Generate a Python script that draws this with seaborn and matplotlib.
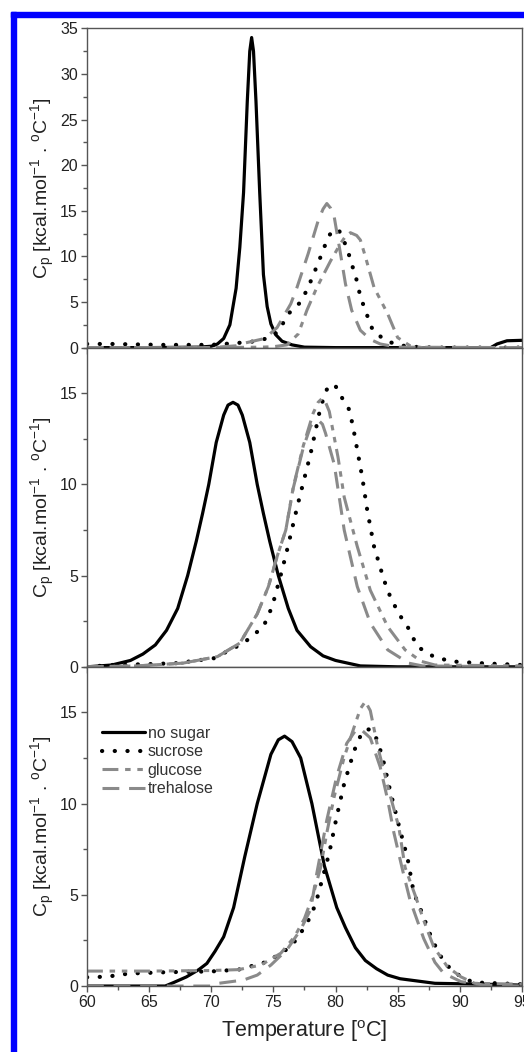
import numpy as np
import pandas as pd
import matplotlib
matplotlib.use("Agg")
import matplotlib.pyplot as plt
from matplotlib.patches import Rectangle
from matplotlib.ticker import MultipleLocator
import seaborn as sns

# =====================================
# DATA
# =====================================

# panel 1
t1_none = [60, 65, 69, 70, 70.5, 71, 71.5, 72, 72.3, 72.6, 72.9, 73.1, 73.25, 73.4, 73.6,
           73.9, 74.2, 74.5, 74.8, 75.2, 75.7, 76.5, 77.5, 80, 85, 90, 92.5, 93, 93.8, 95]
cp1_none = [0, 0, 0.05, 0.15, 0.4, 1.0, 2.5, 6.5, 11, 17, 27, 32.5, 34, 32.5, 27,
            17, 8, 4.5, 2.6, 1.4, 0.7, 0.3, 0.05, 0, 0, 0, 0, 0.4, 0.75, 0.8]

t1_suc = [60, 62, 64, 66, 68, 70, 71, 72, 73, 74, 75, 75.5, 76.2, 77.2, 77.8, 78.4,
          78.9, 79.4, 79.7, 80.0, 80.3, 80.9, 81.3, 81.7, 82.0, 82.5, 83.0, 84, 85, 86,
          88, 95]
cp1_suc = [0.4, 0.4, 0.35, 0.3, 0.3, 0.3, 0.4, 0.5, 0.6, 0.8, 1.3, 2.0, 3.7, 5.0, 6.6, 8.6,
           10.3, 12.1, 12.7, 13.0, 12.8, 11.0, 9.2, 7.4, 5.6, 3.7, 1.9, 0.8, 0.3, 0.1,
           0, 0]

t1_glu = [60, 70, 74, 75, 76.1, 77.0, 77.7, 78.5, 79.6, 80.4, 80.8, 81.2, 81.7, 82.0,
          82.4, 83.1, 84.2, 85.0, 86.0, 87, 95]
cp1_glu = [0, 0, 0.05, 0.1, 0.3, 1.5, 4.1, 6.6, 9.5, 11.4, 12.2, 12.6, 12.3, 11.8,
           10.0, 6.6, 3.7, 1.1, 0.2, 0, 0]

t1_tre = [60, 70, 72, 72.7, 73.5, 74.3, 75.3, 76.4, 76.9, 77.8, 78.6, 79.0, 79.3, 79.6,
          79.9, 80.4, 80.8, 81.3, 82.0, 82.8, 83.6, 85, 95]
cp1_tre = [0, 0, 0.2, 0.5, 0.75, 1.0, 2.2, 4.8, 6.6, 10.3, 13.9, 15.2, 15.8, 15.3,
           14.3, 10.3, 7.0, 4.1, 1.9, 0.9, 0.4, 0.05, 0]

# panel 2
t2_none = [60, 62, 63.5, 64.5, 65.5, 66.4, 67.3, 68.1, 68.8, 69.3, 69.8, 70.4, 71.0, 71.35,
           71.75, 72.15, 72.5, 73.1, 73.7, 74.2, 74.7, 75.4, 76.2, 76.9, 78.0, 79.0, 80.0,
           82, 85, 95]
cp2_none = [0, 0.1, 0.35, 0.7, 1.2, 2.0, 3.2, 5.0, 6.9, 8.4, 10.0, 12.3, 13.8, 14.35,
            14.5, 14.35, 13.8, 12.3, 10.0, 8.4, 6.9, 5.0, 3.2, 2.0, 1.1, 0.6, 0.35,
            0.05, 0, 0]

t2_suc = [60, 62, 65, 67.2, 70.2, 72.6, 74.2, 74.9, 75.7, 76.1, 77.0, 78.0, 78.8, 79.3,
          79.7, 80.0, 80.3, 81.1, 81.4, 82.15, 82.55, 83.1, 83.9, 84.4, 85.1, 85.8, 86.6,
          87.9, 89.3, 90.4, 91.7, 95]
cp2_suc = [0, 0.1, 0.15, 0.2, 0.47, 1.3, 2.2, 3.3, 5.3, 6.4, 9.0, 11.7, 14.25, 15.2,
           15.5, 15.4, 15.0, 14.1, 13.2, 10.4, 8.6, 6.6, 4.76, 3.85, 2.9, 2.2, 1.1,
           0.56, 0.3, 0.25, 0.2, 0.1]

t2_glu = [60, 64, 67.7, 70.5, 72.3, 73.7, 74.6, 75.3, 76.0, 76.6, 77.4, 78.2, 78.6, 78.9,
          79.2, 79.5, 80.2, 80.7, 81.75, 82.8, 84.2, 85.6, 86.9, 88, 95]
cp2_glu = [0, 0.05, 0.2, 0.56, 1.3, 2.9, 4.4, 6.05, 7.5, 9.85, 12.1, 13.9, 14.5, 14.7,
           14.5, 14.0, 11.5, 9.3, 6.6, 4.2, 2.2, 0.93, 0.3, 0.1, 0.05]

t2_tre = [60, 64, 67.7, 70.5, 72.3, 73.7, 74.6, 75.3, 76.0, 76.6, 77.4, 78.0, 78.35, 78.65,
          78.95, 79.2, 79.9, 80.7, 81.75, 82.8, 84.2, 85.9, 87, 95]
cp2_tre = [0, 0.05, 0.2, 0.56, 1.3, 2.9, 4.4, 6.05, 7.5, 9.8, 12.0, 13.2, 13.45, 13.5,
           13.3, 12.8, 11.1, 7.5, 4.4, 2.4, 0.93, 0.2, 0.05, 0]

# panel 3
t3_none = [60, 66.3, 67, 68.0, 69.0, 69.65, 70.3, 71.0, 71.8, 72.7, 73.7, 74.8, 75.4, 75.9,
           76.5, 77.2, 78.1, 79.1, 80.1, 80.8, 81.6, 82.4, 83.3, 84.2, 85.2, 88, 92, 95]
cp3_none = [0, 0, 0.2, 0.5, 0.9, 1.24, 1.9, 2.7, 4.3, 7.1, 10.0, 12.7, 13.5, 13.7,
            13.4, 12.5, 10.0, 6.6, 4.3, 3.2, 2.1, 1.4, 0.95, 0.6, 0.4, 0.15, 0.1, 0.05]

t3_suc = [60, 61, 62, 63, 64, 66, 68, 70, 72.2, 74.5, 76.4, 77.2, 77.9, 78.4, 79.5, 80.1,
          80.7, 81.5, 82.0, 82.5, 83.0, 83.4, 83.8, 84.4, 85.1, 85.8, 86.3, 86.85, 87.8,
          88.5, 89.1, 90.1, 91.1, 95]
cp3_suc = [0.48, 0.5, 0.55, 0.65, 0.7, 0.75, 0.78, 0.8, 0.9, 1.33, 2.15, 2.9, 3.7, 4.5,
           7.3, 9.3, 11.1, 12.9, 13.7, 14.1, 14.0, 13.4, 12.5, 10.7, 8.8, 7.0, 5.1, 4.2,
           2.5, 1.6, 1.06, 0.5, 0.2, 0.1]

t3_glu = [60, 65, 70, 72.2, 74.0, 75.6, 76.7, 77.5, 78.2, 78.8, 79.3, 79.9, 80.7, 81.5,
          82.0, 82.4, 82.8, 83.4, 84.3, 85.1, 85.6, 86.45, 87.1, 87.9, 89.0, 90.1, 91.2, 95]
cp3_glu = [0.82, 0.82, 0.85, 0.9, 1.15, 1.8, 2.7, 3.7, 5.0, 6.5, 8.4, 10.4, 12.55, 14.2,
           15.2, 15.6, 15.1, 13.1, 10.7, 8.7, 6.5, 4.9, 3.6, 2.15, 1.06, 0.5, 0.15, 0.1]

t3_tre = [60, 70, 70.6, 72.6, 73.7, 74.8, 76.1, 77.2, 78.0, 78.5, 79.3, 80.1, 80.9, 81.6,
          82.0, 82.8, 83.6, 84.2, 84.7, 85.4, 86.0, 87.1, 88.0, 88.7, 90.1, 92, 95]
cp3_tre = [0, 0, 0.15, 0.33, 0.6, 1.15, 2.0, 3.1, 4.2, 6.2, 9.1, 11.5, 13.3, 14.0,
           14.1, 13.6, 12.0, 10.2, 8.4, 6.35, 4.7, 2.6, 1.3, 0.7, 0.24, 0.05, 0]

labels = ['no sugar', 'sucrose', 'glucose', 'trehalose']
panels = [
    [(t1_none, cp1_none), (t1_suc, cp1_suc), (t1_glu, cp1_glu), (t1_tre, cp1_tre)],
    [(t2_none, cp2_none), (t2_suc, cp2_suc), (t2_glu, cp2_glu), (t2_tre, cp2_tre)],
    [(t3_none, cp3_none), (t3_suc, cp3_suc), (t3_glu, cp3_glu), (t3_tre, cp3_tre)],
]
y_tops = [35, 17.5, 17.5]

# =====================================
# STYLE
# =====================================

sns.set_style('ticks')
plt.rcParams['font.family'] = ['Liberation Sans', 'DejaVu Sans']
plt.rcParams['mathtext.fontset'] = 'custom'
plt.rcParams['mathtext.rm'] = 'Liberation Sans'
plt.rcParams['mathtext.it'] = 'Liberation Sans'
plt.rcParams['mathtext.default'] = 'regular'

gray = '#8a8a8a'
styles = {
    'no sugar': dict(color='black', lw=2.3, linestyle='-'),
    'sucrose': dict(color='black', lw=3.0, linestyle=(0, (0.05, 3.0)),
                    dash_capstyle='round'),
    'glucose': dict(color=gray, lw=2.2, linestyle=(0, (5.2, 2.2, 1.8, 2.2, 1.8, 2.2))),
    'trehalose': dict(color=gray, lw=2.2, linestyle=(0, (5.5, 3.2))),
}

fig, axes = plt.subplots(3, 1, sharex=True, figsize=(5.24, 10.52), dpi=100)
fig.subplots_adjust(left=0.166, right=0.996, top=0.973, bottom=0.0627, hspace=0)

axis_col = '#555555'
text_col = '#222222'

for ax, curves, ytop in zip(axes, panels, y_tops):
    for lab, (t, cp) in zip(labels, curves):
        df = pd.DataFrame({'T': t, 'Cp': cp})
        sns.lineplot(data=df, x='T', y='Cp', ax=ax, label=lab, sort=True,
                     **styles[lab])
    ax.set_xlim(60, 95)
    ax.set_ylim(0, ytop)
    ax.xaxis.set_major_locator(MultipleLocator(5))
    ax.xaxis.set_minor_locator(MultipleLocator(2.5))
    ax.yaxis.set_major_locator(MultipleLocator(5))
    ax.yaxis.set_minor_locator(MultipleLocator(2.5))
    ax.tick_params(which='major', direction='out', length=4.5, width=1,
                   color=axis_col, labelsize=11.5, labelcolor=text_col, pad=2)
    ax.tick_params(which='minor', direction='out', length=3, width=1, color=axis_col)
    for s in ax.spines.values():
        s.set_color(axis_col)
        s.set_linewidth(1)
    ax.set_xlabel('')
    ax.set_ylabel('C$_p$ [kcal.mol$^{-1}$ . $^{o}$C$^{-1}$]', fontsize=14,
                  color=text_col, labelpad=2)
    if ax.get_legend() is not None:
        ax.get_legend().remove()

axes[2].set_xlabel('Temperature [$^{o}$C]', fontsize=15.5, color=text_col, labelpad=6)

leg = axes[2].legend(loc='upper left', bbox_to_anchor=(0.035, 0.815), frameon=False,
                     fontsize=11.5, handlelength=2.7, handletextpad=0.15,
                     labelspacing=0.22, borderpad=0, borderaxespad=0)
for txt in leg.get_texts():
    txt.set_color('#333333')

# blue frame of the figure panel
fig.patches.append(Rectangle((11 / 524, 0), 5 / 524, 1 - 12 / 1052,
                             transform=fig.transFigure, color='#0000ff', zorder=10))
fig.patches.append(Rectangle((11 / 524, 1 - 17 / 1052), 1, 5 / 1052,
                             transform=fig.transFigure, color='#0000ff', zorder=10))

fig.savefig('out.png', dpi=100)
